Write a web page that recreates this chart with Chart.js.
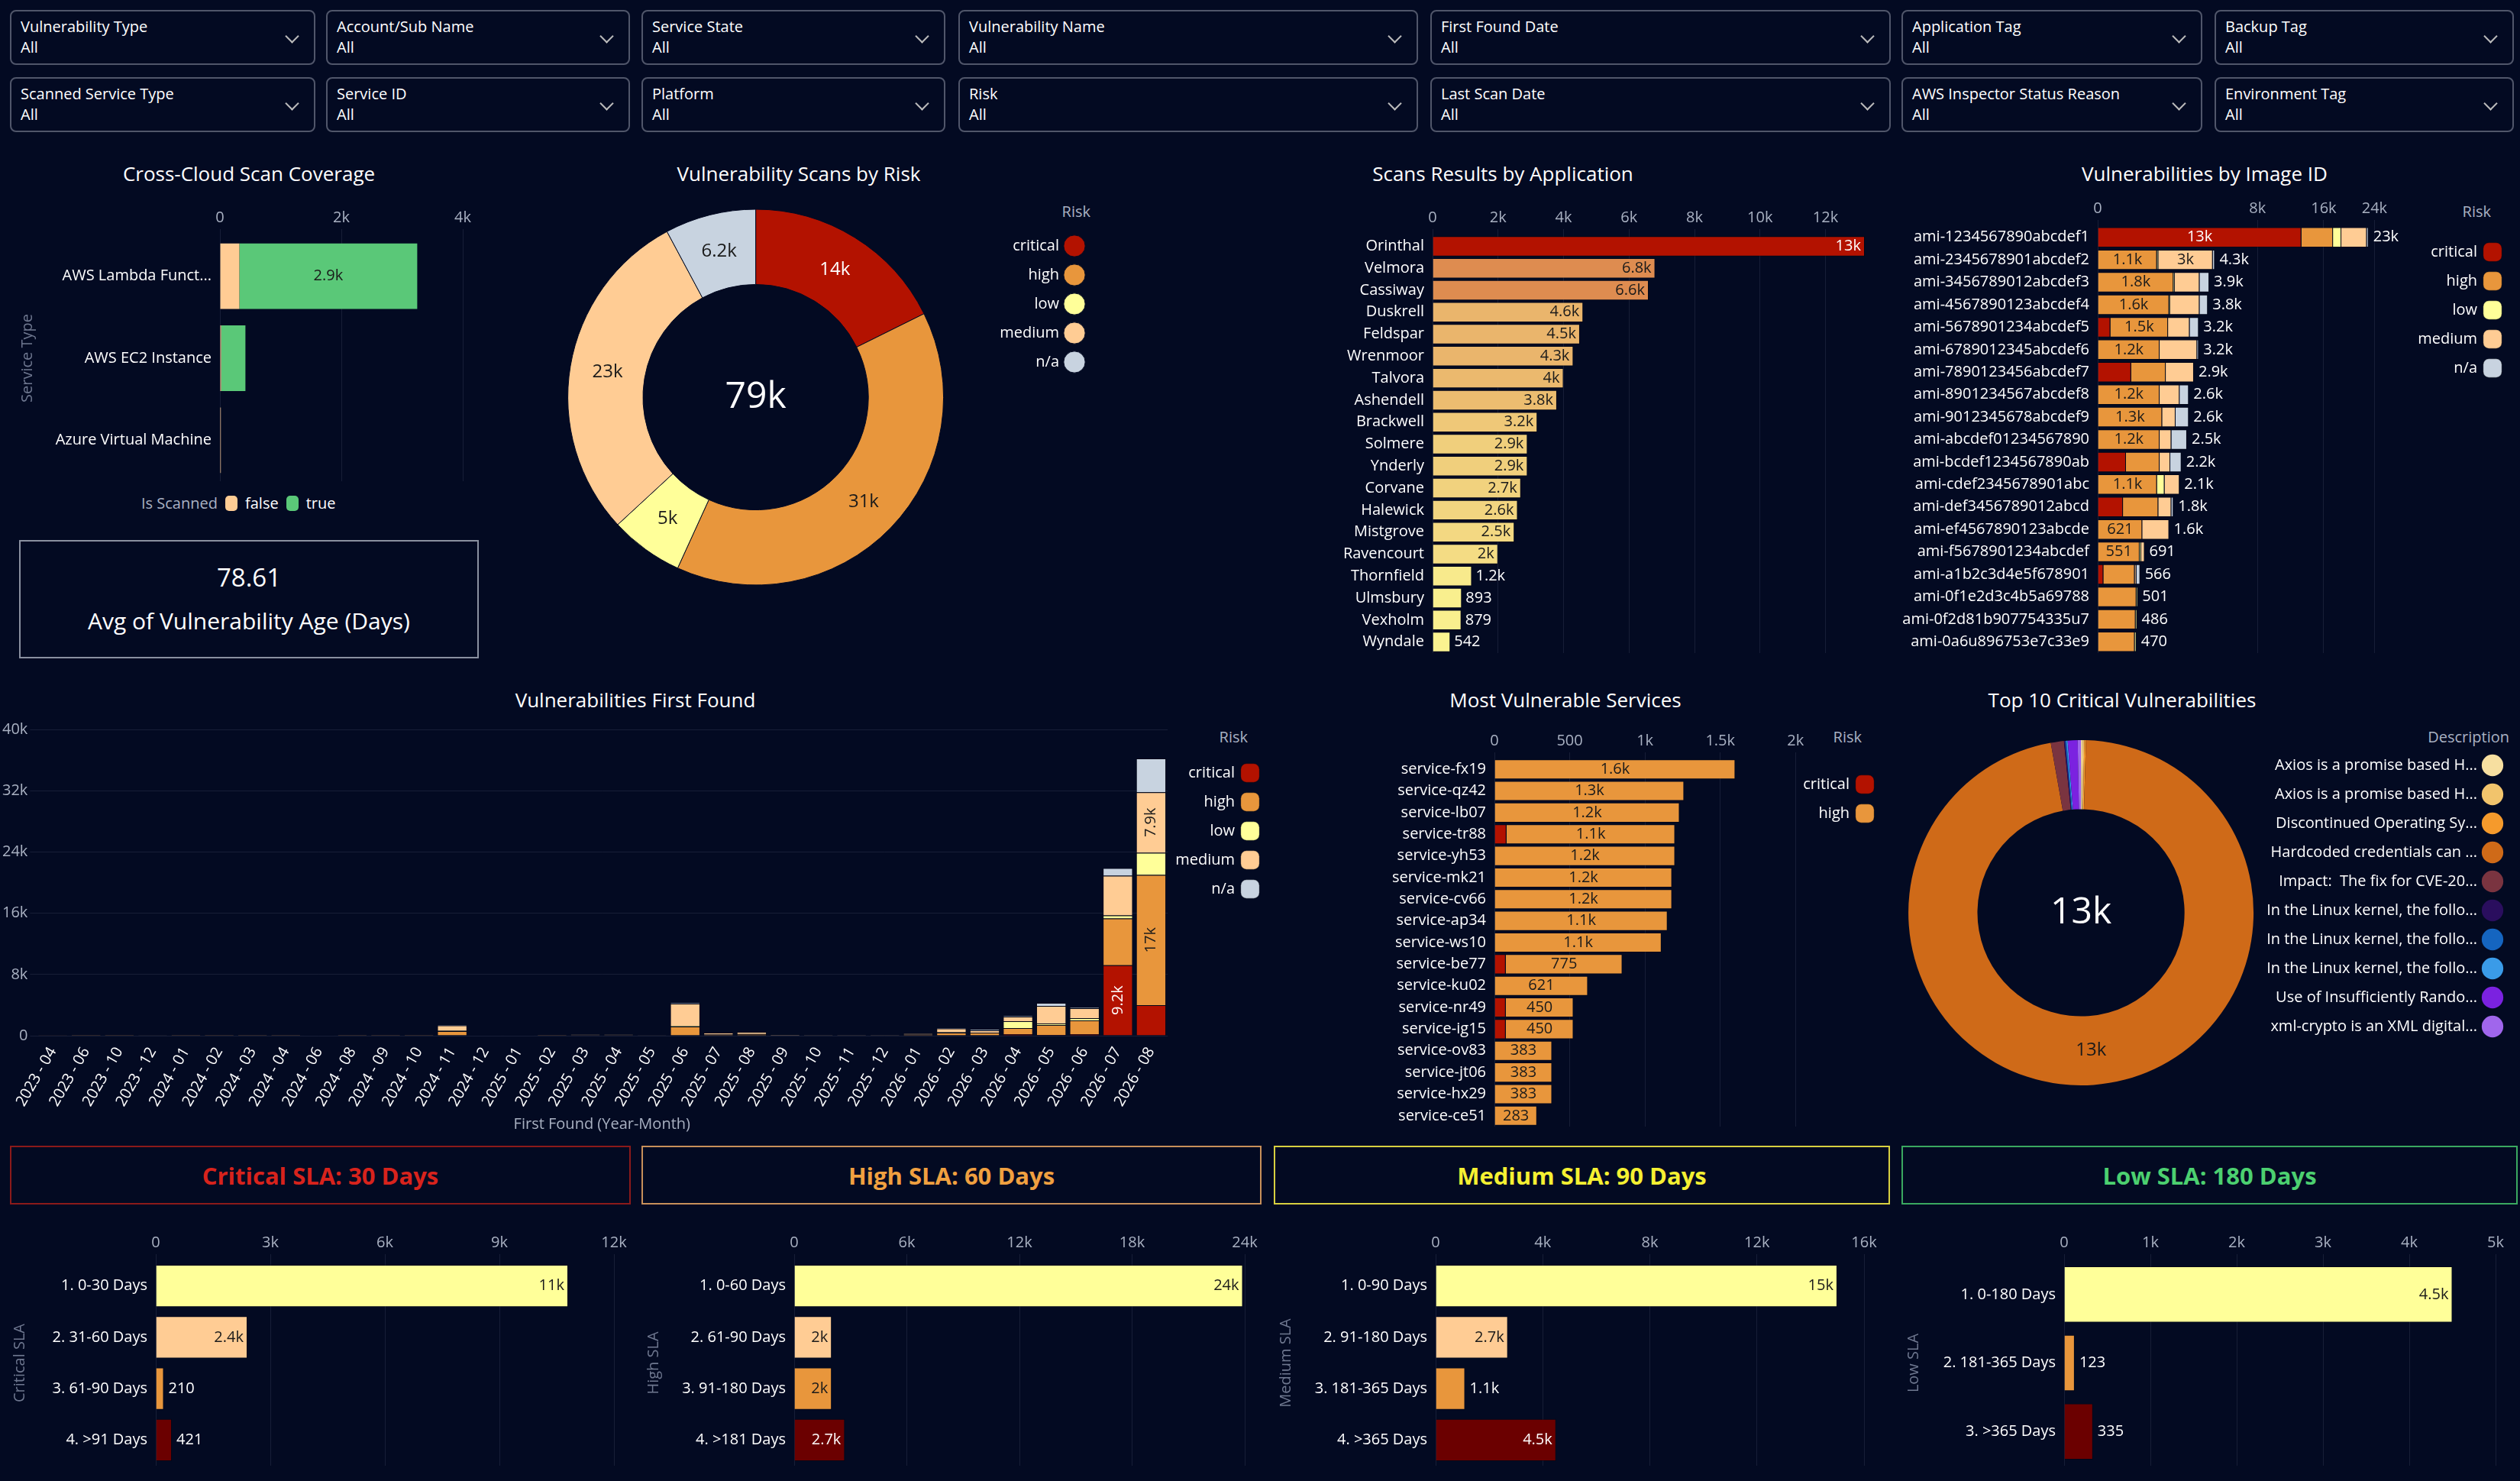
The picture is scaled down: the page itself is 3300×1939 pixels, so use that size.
<!DOCTYPE html>
<html><head><meta charset="utf-8">
<script src="https://cdn.jsdelivr.net/npm/chart.js@4.4.1/dist/chart.umd.min.js"></script>
<style>
body{margin:0;width:3300px;height:1939px;background:#030a22;overflow:hidden;font-family:"Open Sans",sans-serif;color:#fff;position:relative}
.filter{position:absolute;border:2px solid #50566a;border-radius:8px;box-sizing:border-box;padding:6px 12px;font-size:20px;line-height:27px}
.filter:after{content:'';position:absolute;right:22px;top:26px;width:11px;height:11px;border-right:2px solid #bbb;border-bottom:2px solid #bbb;transform:rotate(45deg)}
.title{position:absolute;font-size:26px;transform:translate(-50%,-50%);white-space:nowrap}
.ltitle{position:absolute;font-size:20px;color:#a9b1c2;transform:translate(-100%,-50%);white-space:nowrap}
.panel{position:absolute}
.sla{position:absolute;top:1500px;height:77px;box-sizing:border-box;border:2px solid;display:flex;align-items:center;justify-content:center;font-size:31px;font-weight:bold}
.avg{position:absolute;left:25px;top:707px;width:602px;height:155px;box-sizing:border-box;border:2px solid #8a90a0;text-align:center}
.leg{position:absolute;font-size:20px;display:flex;align-items:center;gap:10px;color:#fff}
.leg i{display:inline-block;width:16px;height:20px;border-radius:5px}
</style></head><body>
<script>
// ---------- data ----------
const riskNames = ['critical', 'high', 'low', 'medium', 'n/a'];

const coverageTypes = ['AWS Lambda Funct...', 'AWS EC2 Instance', 'Azure Virtual Machine'];
const coverageFalse = [320, 20, 15];
const coverageTrue = [2930, 400, 0];

const riskTotals = [14000, 31000, 5000, 23000, 6200];

const apps = ['Orinthal', 'Velmora', 'Cassiway', 'Duskrell', 'Feldspar', 'Wrenmoor', 'Talvora', 'Ashendell', 'Brackwell', 'Solmere', 'Ynderly', 'Corvane', 'Halewick', 'Mistgrove', 'Ravencourt', 'Thornfield', 'Ulmsbury', 'Vexholm', 'Wyndale'];
const appValues = [13200, 6800, 6600, 4600, 4500, 4300, 4000, 3800, 3200, 2900, 2900, 2700, 2600, 2500, 2000, 1200, 893, 879, 542];
const appTicks = [0, 2000, 4000, 6000, 8000, 10000, 12000];

const images = ['ami-1234567890abcdef1', 'ami-2345678901abcdef2', 'ami-3456789012abcdef3', 'ami-4567890123abcdef4', 'ami-5678901234abcdef5', 'ami-6789012345abcdef6', 'ami-7890123456abcdef7', 'ami-8901234567abcdef8', 'ami-9012345678abcdef9', 'ami-abcdef01234567890', 'ami-bcdef1234567890ab', 'ami-cdef2345678901abc', 'ami-def3456789012abcd', 'ami-ef4567890123abcde', 'ami-f5678901234abcdef', 'ami-a1b2c3d4e5f678901', 'ami-0f1e2d3c4b5a69788', 'ami-0f2d81b907754335u7', 'ami-0a6u896753e7c33e9'];
const imgCritical = [13000, 0, 0, 0, 50, 0, 350, 0, 0, 0, 250, 0, 200, 0, 0, 10, 0, 0, 0];
const imgHigh = [4350, 1100, 1800, 1600, 1500, 1200, 1100, 1200, 1300, 1200, 950, 1100, 950, 621, 551, 420, 470, 450, 430];
const imgLow = [1250, 50, 50, 50, 0, 0, 0, 0, 0, 0, 0, 300, 0, 0, 40, 0, 31, 36, 40];
const imgMedium = [4100, 3000, 1400, 1600, 1100, 1900, 1450, 900, 600, 500, 450, 700, 550, 979, 100, 40, 0, 0, 0];
const imgNa = [300, 150, 650, 550, 550, 100, 0, 500, 700, 800, 550, 0, 100, 0, 0, 96, 0, 0, 0];
const imgTicks = [0, 8000, 16000, 24000];

const months = ['2023 - 04', '2023 - 06', '2023 - 10', '2023 - 12', '2024 - 01', '2024 - 02', '2024 - 03', '2024 - 04', '2024 - 06', '2024 - 08', '2024 - 09', '2024 - 10', '2024 - 11', '2024 - 12', '2025 - 01', '2025 - 02', '2025 - 03', '2025 - 04', '2025 - 05', '2025 - 06', '2025 - 07', '2025 - 08', '2025 - 09', '2025 - 10', '2025 - 11', '2025 - 12', '2026 - 01', '2026 - 02', '2026 - 03', '2026 - 04', '2026 - 05', '2026 - 06', '2026 - 07', '2026 - 08'];
const ffCritical = [0, 0, 0, 0, 0, 0, 0, 0, 0, 0, 0, 0, 0, 0, 0, 0, 0, 0, 0, 0, 0, 0, 0, 0, 0, 0, 0, 0, 0, 200, 100, 200, 9200, 4000];
const ffHigh = [20, 10, 10, 30, 10, 10, 10, 10, 40, 10, 10, 10, 600, 40, 40, 10, 80, 80, 30, 1200, 150, 200, 60, 50, 50, 40, 150, 400, 400, 800, 1300, 1800, 6100, 17000];
const ffLow = [0, 0, 0, 0, 0, 0, 0, 0, 0, 0, 0, 0, 50, 0, 0, 0, 0, 0, 0, 100, 0, 30, 0, 0, 0, 0, 0, 50, 0, 900, 200, 300, 400, 2900];
const ffMedium = [20, 10, 10, 30, 10, 10, 10, 10, 40, 10, 10, 10, 700, 40, 40, 10, 80, 80, 30, 2900, 250, 270, 90, 60, 60, 50, 150, 500, 300, 600, 2300, 1300, 5200, 7900];
const ffNa = [0, 0, 0, 0, 0, 0, 0, 0, 0, 0, 0, 0, 100, 0, 0, 0, 0, 0, 0, 100, 0, 0, 0, 0, 0, 0, 0, 100, 150, 100, 400, 100, 1000, 4400];

const services = ['service-fx19', 'service-qz42', 'service-lb07', 'service-tr88', 'service-yh53', 'service-mk21', 'service-cv66', 'service-ap34', 'service-ws10', 'service-be77', 'service-ku02', 'service-nr49', 'service-ig15', 'service-ov83', 'service-jt06', 'service-hx29', 'service-ce51'];
const svcCritical = [0, 0, 0, 80, 0, 0, 0, 0, 0, 75, 0, 75, 75, 0, 0, 0, 0];
const svcHigh = [1600, 1260, 1230, 1120, 1200, 1180, 1180, 1150, 1110, 775, 621, 450, 450, 383, 383, 383, 283];

const topVulns = ['Axios is a promise based H...', 'Axios is a promise based H...', 'Discontinued Operating Sy...', 'Hardcoded credentials can ...', 'Impact:  The fix for CVE-20...', 'In the Linux kernel, the follo...', 'In the Linux kernel, the follo...', 'In the Linux kernel, the follo...', 'Use of Insufficiently Rando...', 'xml-crypto is an XML digital...'];
const topValues = [20, 20, 20, 12600, 160, 15, 15, 15, 120, 40];

const slaCritLabels = ['1. 0-30 Days', '2. 31-60 Days', '3. 61-90 Days', '4. >91 Days'];
const slaCritValues = [10800, 2400, 210, 421];
const slaHighLabels = ['1. 0-60 Days', '2. 61-90 Days', '3. 91-180 Days', '4. >181 Days'];
const slaHighValues = [23900, 2000, 2000, 2700];
const slaMedLabels = ['1. 0-90 Days', '2. 91-180 Days', '3. 181-365 Days', '4. >365 Days'];
const slaMedValues = [15000, 2700, 1100, 4500];
const slaLowLabels = ['1. 0-180 Days', '2. 181-365 Days', '3. >365 Days'];
const slaLowValues = [4500, 123, 335];

// ---------- style ----------
const riskColors = ['#b31200', '#e8963c', '#ffff99', '#ffcc94', '#c8d3e0'];
const appColors = ['#b31200', '#de8c50', '#de8c50', '#eab56c', '#eab56c', '#eab56c', '#ebb96e', '#ecbd70', '#efc878', '#f0cf7c', '#f0cf7c', '#f1d27e', '#f2d580', '#f3d882', '#f4dc84', '#f8ea8c', '#f9ef8e', '#f9ef8e', '#faf290'];
const topColors = ['#f7dfa0', '#f2c46c', '#f59a2c', '#cf6a18', '#7a3440', '#2a0e5e', '#1565c0', '#3a9be8', '#7b22e0', '#a066ec'];
const slaColors4 = ['#ffff99', '#ffcc94', '#e8963c', '#6b0000'];
const slaColors3 = ['#ffff99', '#e8963c', '#6b0000'];
const grid = 'rgba(160,170,200,0.13)';
const tick = '#a9b1c2';

Chart.defaults.font.family = '"Open Sans", sans-serif';
Chart.defaults.font.size = 20;
Chart.defaults.color = tick;
Chart.defaults.animation = false;
Chart.defaults.devicePixelRatio = 1;
Chart.defaults.plugins.tooltip.enabled = false;

function fmt(v) {
    if (v < 1000) return String(Math.round(v));
    const k = v / 1000;
    return (k >= 10 ? Math.round(k) : +k.toFixed(1)) + 'k';
}

// sqrt scale for the image chart
class SqrtScale extends Chart.LinearScale {
    getPixelForValue(v) {
        const mn = Math.sqrt(Math.max(this.min, 0)), mx = Math.sqrt(this.max);
        return this.getPixelForDecimal((Math.sqrt(Math.max(v, 0)) - mn) / (mx - mn));
    }
    getValueForPixel(p) {
        const mn = Math.sqrt(Math.max(this.min, 0)), mx = Math.sqrt(this.max);
        return Math.pow(mn + this.getDecimalForPixel(p) * (mx - mn), 2);
    }
}
SqrtScale.id = 'sqrt';
SqrtScale.defaults = Chart.LinearScale.defaults;
Chart.register(SqrtScale);

// ---------- layout helpers ----------
function el(tag, cls, css, html) {
    const d = document.createElement(tag);
    if (cls) d.className = cls;
    Object.assign(d.style, css || {});
    if (html != null) d.innerHTML = html;
    document.body.appendChild(d);
    return d;
}
function panel(x, y, w, h) {
    const d = el('div', 'panel', { left: x + 'px', top: y + 'px', width: w + 'px', height: h + 'px' });
    const c = document.createElement('canvas');
    d.appendChild(c);
    return c;
}
function title(text, x, y) { el('div', 'title', { left: x + 'px', top: y + 'px' }, text); }
function legendTitle(text, x, y) { el('div', 'ltitle', { left: x + 'px', top: y + 'px' }, text); }
function lbl(fn) {
    return { id: 'lbl', afterDatasetsDraw(chart) { const ctx = chart.ctx; ctx.save(); ctx.textBaseline = 'middle'; ctx.font = '20px "Open Sans"'; fn(chart, ctx); ctx.restore(); } };
}
const rightLegend = (style) => ({
    position: 'right', align: 'start', rtl: true,
    title: { display: true, text: 'Risk', color: 'rgba(0,0,0,0)', font: { size: 20 }, padding: { top: 14, bottom: 6 } },
    labels: { color: '#fff', usePointStyle: true, pointStyle: style || 'rectRounded', padding: 18, font: { size: 20 } }
});
const catAxis = (w, extra) => Object.assign({ grid: { display: false }, border: { display: false }, ticks: { color: '#fff', autoSkip: false }, afterFit: s => { s.width = w; } }, extra || {});
const fixedTicks = list => s => { s.ticks = list.map(v => ({ value: v })); };

// ---------- filters ----------
const filterRow1 = ['Vulnerability Type', 'Account/Sub Name', 'Service State', 'Vulnerability Name', 'First Found Date', 'Application Tag', 'Backup Tag'];
const filterRow2 = ['Scanned Service Type', 'Service ID', 'Platform', 'Risk', 'Last Scan Date', 'AWS Inspector Status Reason', 'Environment Tag'];
const filterX = [[13, 413], [427, 825], [840, 1238], [1255, 1857], [1873, 2476], [2490, 2884], [2900, 3292]];
[[filterRow1, 13], [filterRow2, 101]].forEach(([names, y]) => names.forEach((n, i) => {
    el('div', 'filter', { left: filterX[i][0] + 'px', top: y + 'px', width: (filterX[i][1] - filterX[i][0]) + 'px', height: '72px' }, n + '<br>All');
}));

// ---------- titles ----------
title('Cross-Cloud Scan Coverage', 326, 227);
title('Vulnerability Scans by Risk', 1046, 227);
title('Scans Results by Application', 1968, 227);
title('Vulnerabilities by Image ID', 2887, 227);
title('Vulnerabilities First Found', 832, 916);
title('Most Vulnerable Services', 2050, 916);
title('Top 10 Critical Vulnerabilities', 2779, 916);
legendTitle('Risk', 1428, 276);
legendTitle('Risk', 3262, 276);
legendTitle('Risk', 1634, 964);
legendTitle('Risk', 2438, 964);
legendTitle('Description', 3286, 964);

// ---------- cross-cloud coverage ----------
new Chart(panel(20, 270, 600, 375), {
    type: 'bar',
    data: { labels: coverageTypes, datasets: [
        { label: 'false', data: coverageFalse, backgroundColor: riskColors[3] },
        { label: 'true', data: coverageTrue, backgroundColor: '#5ac878' }] },
    options: {
        indexAxis: 'y', responsive: true, maintainAspectRatio: false,
        layout: { padding: { right: 14 } },
        datasets: { bar: { barPercentage: 1, categoryPercentage: 0.8 } },
        plugins: { legend: { display: false } },
        scales: {
            x: { stacked: true, position: 'top', min: 0, max: 4000, ticks: { stepSize: 2000, callback: fmt }, grid: { color: grid }, border: { display: false } },
            y: catAxis(268, { stacked: true, title: { display: true, text: 'Service Type', color: '#6f7890' } })
        }
    },
    plugins: [lbl((chart, ctx) => {
        chart.getDatasetMeta(1).data.forEach((b, i) => {
            if (b.x - b.base > 80) { ctx.fillStyle = '#1a1a1a'; ctx.textAlign = 'center'; ctx.fillText(fmt(coverageTrue[i]), (b.x + b.base) / 2, b.y); }
        });
    })]
});
el('div', 'leg', { left: '185px', top: '645px' }, '<span style="color:' + tick + '">Is Scanned</span> <i style="background:' + riskColors[3] + '"></i>false <i style="background:#5ac878"></i>true');

el('div', 'avg', {}, '<div style="font-size:33px;margin-top:24px">78.61</div><div style="font-size:30px;margin-top:14px">Avg of Vulnerability Age (Days)</div>');

// ---------- risk donut ----------
function donutLabels(values, total, minFrac, colorFn) {
    return lbl((chart, ctx) => {
        const meta = chart.getDatasetMeta(0);
        meta.data.forEach((a, i) => {
            if (values[i] / total < minFrac) return;
            const ang = (a.startAngle + a.endAngle) / 2, r = (a.innerRadius + a.outerRadius) / 2;
            ctx.fillStyle = colorFn(i); ctx.textAlign = 'center'; ctx.font = '24px "Open Sans"';
            ctx.fillText(fmt(values[i]), a.x + Math.cos(ang) * r, a.y + Math.sin(ang) * r);
        });
        const m = meta.data[0];
        ctx.fillStyle = '#fff'; ctx.font = '48px "Open Sans"'; ctx.textAlign = 'center';
        ctx.fillText(fmt(total), m.x, m.y);
    });
}
const riskSum = riskTotals.reduce((a, b) => a + b, 0);
new Chart(panel(680, 250, 755, 540), {
    type: 'doughnut',
    data: { labels: riskNames, datasets: [{ data: riskTotals, backgroundColor: riskColors, borderWidth: 1, borderColor: '#030a22', radius: 246, cutout: '60%' }] },
    options: { responsive: true, maintainAspectRatio: false, plugins: { legend: rightLegend('circle') } },
    plugins: [donutLabels(riskTotals, riskSum, 0.03, i => i === 0 ? '#fff' : '#1a1a1a')]
});

// ---------- scans by application ----------
new Chart(panel(1652, 270, 790, 600), {
    type: 'bar',
    data: { labels: apps, datasets: [{ data: appValues, backgroundColor: appColors, borderColor: 'rgba(0,0,0,0.35)', borderWidth: 1 }] },
    options: {
        indexAxis: 'y', responsive: true, maintainAspectRatio: false,
        datasets: { bar: { barPercentage: 1, categoryPercentage: 0.92 } },
        plugins: { legend: { display: false } },
        scales: {
            x: { position: 'top', min: 0, max: 13200, afterBuildTicks: fixedTicks(appTicks), ticks: { callback: fmt }, grid: { color: grid }, border: { display: false } },
            y: catAxis(224)
        }
    },
    plugins: [lbl((chart, ctx) => {
        chart.getDatasetMeta(0).data.forEach((b, i) => {
            const t = fmt(appValues[i]), w = ctx.measureText(t).width;
            if (b.x - b.base > w + 14) { ctx.textAlign = 'right'; ctx.fillStyle = i === 0 ? '#fff' : '#1a1a1a'; ctx.fillText(t, b.x - 5, b.y); }
            else { ctx.textAlign = 'left'; ctx.fillStyle = '#fff'; ctx.fillText(t, b.x + 5, b.y); }
        });
    })]
});

// ---------- vulnerabilities by image id ----------
const imgSeries = [imgCritical, imgHigh, imgLow, imgMedium, imgNa];
new Chart(panel(2480, 258, 812, 612), {
    type: 'bar',
    data: { labels: images, datasets: imgSeries.map((d, k) => ({ label: riskNames[k], data: d, backgroundColor: riskColors[k], borderColor: 'rgba(0,0,0,0.3)', borderWidth: 1 })) },
    options: {
        indexAxis: 'y', responsive: true, maintainAspectRatio: false,
        datasets: { bar: { barPercentage: 1, categoryPercentage: 0.9 } },
        plugins: { legend: rightLegend() },
        scales: {
            x: { type: 'sqrt', stacked: true, position: 'top', min: 0, max: 30600, afterBuildTicks: fixedTicks(imgTicks), ticks: { callback: fmt }, grid: { color: grid }, border: { display: false } },
            y: catAxis(267, { stacked: true })
        }
    },
    plugins: [lbl((chart, ctx) => {
        imgSeries.forEach((d, k) => chart.getDatasetMeta(k).data.forEach((b, i) => {
            if (b.x - b.base > 52) { ctx.textAlign = 'center'; ctx.fillStyle = k === 0 ? '#fff' : '#1a1a1a'; ctx.fillText(fmt(d[i]), (b.x + b.base) / 2, b.y); }
        }));
        chart.getDatasetMeta(4).data.forEach((b, i) => {
            const tot = imgSeries.reduce((s, d) => s + d[i], 0);
            ctx.textAlign = 'left'; ctx.fillStyle = '#fff'; ctx.fillText(fmt(tot), Math.max(b.x, b.base) + 6, b.y);
        });
    })]
});

// ---------- first found ----------
const ffSeries = [ffCritical, ffHigh, ffLow, ffMedium, ffNa];
new Chart(panel(0, 940, 1665, 548), {
    type: 'bar',
    data: { labels: months, datasets: ffSeries.map((d, k) => ({ label: riskNames[k], data: d, backgroundColor: riskColors[k], borderColor: 'rgba(0,0,0,0.3)', borderWidth: 1 })) },
    options: {
        responsive: true, maintainAspectRatio: false,
        datasets: { bar: { barPercentage: 0.95, categoryPercentage: 0.95 } },
        plugins: { legend: rightLegend() },
        scales: {
            x: { stacked: true, grid: { display: false }, border: { display: false }, ticks: { color: '#fff', autoSkip: false, minRotation: 60, maxRotation: 60 }, title: { display: true, text: 'First Found (Year-Month)', color: tick } },
            y: { stacked: true, min: 0, max: 40000, ticks: { stepSize: 8000, callback: fmt }, grid: { color: grid }, border: { display: false } }
        }
    },
    plugins: [lbl((chart, ctx) => {
        ffSeries.forEach((d, k) => chart.getDatasetMeta(k).data.forEach((b, i) => {
            if (b.base - b.y > 70) {
                ctx.save(); ctx.translate(b.x, (b.y + b.base) / 2); ctx.rotate(-Math.PI / 2);
                ctx.textAlign = 'center'; ctx.fillStyle = k === 0 ? '#fff' : '#1a1a1a'; ctx.fillText(fmt(d[i]), 0, 0); ctx.restore();
            }
        }));
    })]
});

// ---------- most vulnerable services ----------
new Chart(panel(1755, 955, 715, 535), {
    type: 'bar',
    data: { labels: services, datasets: [
        { label: 'critical', data: svcCritical, backgroundColor: riskColors[0], borderColor: 'rgba(0,0,0,0.3)', borderWidth: 1 },
        { label: 'high', data: svcHigh, backgroundColor: riskColors[1], borderColor: 'rgba(0,0,0,0.3)', borderWidth: 1 }] },
    options: {
        indexAxis: 'y', responsive: true, maintainAspectRatio: false,
        datasets: { bar: { barPercentage: 1, categoryPercentage: 0.92 } },
        plugins: { legend: rightLegend() },
        scales: {
            x: { stacked: true, position: 'top', min: 0, max: 2000, ticks: { stepSize: 500, callback: fmt }, grid: { color: grid }, border: { display: false } },
            y: catAxis(202, { stacked: true })
        }
    },
    plugins: [lbl((chart, ctx) => {
        chart.getDatasetMeta(1).data.forEach((b, i) => {
            ctx.textAlign = 'center'; ctx.fillStyle = '#1a1a1a'; ctx.fillText(fmt(svcHigh[i]), (b.x + b.base) / 2, b.y);
        });
    })]
});

// ---------- top 10 critical ----------
const topSum = topValues.reduce((a, b) => a + b, 0);
new Chart(panel(2492, 930, 800, 530), {
    type: 'doughnut',
    data: { labels: topVulns, datasets: [{ data: topValues, backgroundColor: topColors, borderWidth: 0, radius: 226, cutout: '60%' }] },
    options: { responsive: true, maintainAspectRatio: false, plugins: { legend: rightLegend('circle') } },
    plugins: [donutLabels(topValues, topSum, 0.3, () => '#1a1a1a')]
});

// ---------- SLA panels ----------
const slaHeads = [
    ['Critical SLA: 30 Days', 13, 826, '#8b1a1a', '#d8231c'],
    ['High SLA: 60 Days', 840, 1652, '#c8905a', '#f0a040'],
    ['Medium SLA: 90 Days', 1668, 2475, '#d8d040', '#f5f032'],
    ['Low SLA: 180 Days', 2490, 3297, '#3aa860', '#4cd070']];
slaHeads.forEach(h => el('div', 'sla', { left: h[1] + 'px', width: (h[2] - h[1]) + 'px', borderColor: h[3], color: h[4] }, h[0]));

function slaChart(x, w, yw, axisTitle, labels, values, colors, max, step) {
    new Chart(panel(x, 1612, w, 322), {
        type: 'bar',
        data: { labels: labels, datasets: [{ data: values, backgroundColor: colors, borderColor: 'rgba(0,0,0,0.3)', borderWidth: 1 }] },
        options: {
            indexAxis: 'y', responsive: true, maintainAspectRatio: false,
            layout: { padding: { right: 22 } },
            datasets: { bar: { barPercentage: 1, categoryPercentage: 0.82 } },
            plugins: { legend: { display: false } },
            scales: {
                x: { position: 'top', min: 0, max: max, ticks: { stepSize: step, callback: fmt }, grid: { color: grid }, border: { display: false } },
                y: catAxis(yw, { title: { display: true, text: axisTitle, color: '#6f7890' } })
            }
        },
        plugins: [lbl((chart, ctx) => {
            chart.getDatasetMeta(0).data.forEach((b, i) => {
                const t = fmt(values[i]);
                if (b.x - b.base > 45) { ctx.textAlign = 'right'; ctx.fillStyle = colors[i] === '#6b0000' ? '#fff' : '#1a1a1a'; ctx.fillText(t, b.x - 5, b.y); }
                else { ctx.textAlign = 'left'; ctx.fillStyle = '#fff'; ctx.fillText(t, b.x + 6, b.y); }
            });
        })]
    });
}
slaChart(10, 816, 194, 'Critical SLA', slaCritLabels, slaCritValues, slaColors4, 12000, 3000);
slaChart(840, 812, 200, 'High SLA', slaHighLabels, slaHighValues, slaColors4, 24000, 6000);
slaChart(1668, 795, 212, 'Medium SLA', slaMedLabels, slaMedValues, slaColors4, 16000, 4000);
slaChart(2490, 800, 213, 'Low SLA', slaLowLabels, slaLowValues, slaColors3, 5000, 1000);
</script>
</body></html>
